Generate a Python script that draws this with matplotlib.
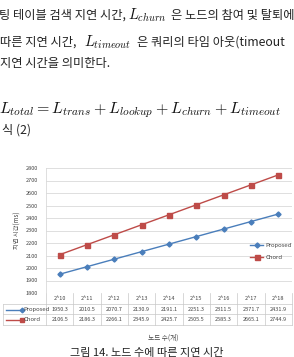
import matplotlib.pyplot as plt
import numpy as np
from matplotlib.lines import Line2D

plt.rcParams["font.family"] = ["Noto Sans CJK KR", "DejaVu Sans"]
plt.rcParams["mathtext.fontset"] = "cm"

categories = ["2^10", "2^11", "2^12", "2^13", "2^14", "2^15", "2^16", "2^17", "2^18"]
proposed = [1950.3, 2010.5, 2070.7, 2130.9, 2191.1, 2251.3, 2311.5, 2371.7, 2431.9]
chord = [2106.5, 2186.3, 2266.1, 2345.9, 2425.7, 2505.5, 2585.3, 2665.1, 2744.9]
series = [("Proposed", proposed, "#4a7ebb", "D"), ("Chord", chord, "#be4b48", "s")]

W, H = 294, 357
fig = plt.figure(figsize=(W / 100, H / 100), dpi=100)


def fx(px):
    return px / W


def fy(py):
    return 1 - py / H


# body text above the figure (korean runs and inline math placed separately)
txt = dict(fontsize=8.8, color="#222222", va="center", ha="left")
mth = dict(fontsize=10.5, color="#111111", va="center", ha="left")
fig.text(fx(-1), fy(15), "팅 테이블 검색 지연 시간,", **txt)
fig.text(fx(128), fy(15), "$L_{churn}$", **mth)
fig.text(fx(171), fy(15), "은 노드의 참여 및 탈퇴에", **txt)
fig.text(fx(0), fy(42), "따른 지연 시간,", **txt)
fig.text(fx(84), fy(42), "$L_{timeout}$", **mth)
fig.text(fx(137), fy(42), "은 쿼리의 타임 아웃(timeout", **txt)
fig.text(fx(0), fy(63), "지연 시간을 의미한다.", **txt)
fig.text(fx(-1), fy(110),
         r"$L_{total}=L_{trans}+L_{lookup}+L_{churn}+L_{timeout}$",
         fontsize=11.5, color="#111111", va="center", ha="left")
fig.text(fx(2), fy(130), "식 (2)", **txt)

# chart
ax = fig.add_axes([fx(46), fy(293), fx(292) - fx(46), (293 - 168) / H])
x = np.arange(len(categories))
for name, vals, color, marker in series:
    ax.plot(x, vals, color=color, lw=1.0, marker=marker,
            ms=2.6 if marker == "D" else 3.6, label=name)
ax.set_xlim(-0.5, len(categories) - 0.5)
ax.set_ylim(1800, 2800)
ax.set_yticks(np.arange(1800, 2801, 100))
ax.tick_params(axis="y", labelsize=4, length=0, pad=6, colors="#444444")
ax.set_xticks([])
ax.grid(axis="y", color="#d9d9d9", lw=0.6)
for s in ["top", "right", "bottom"]:
    ax.spines[s].set_visible(False)
ax.spines["left"].set_color("#d9d9d9")
ax.spines["left"].set_linewidth(0.6)
ax.set_axisbelow(True)
ax.set_ylabel("지연 시간(ms)", fontsize=4.5, color="#444444", labelpad=3)

ax.legend(loc="center right", bbox_to_anchor=(1.02, 0.33), frameon=False,
          fontsize=4.3, handlelength=2.2, labelspacing=1.1, handletextpad=0.3,
          labelcolor="#444444")

# data table under the plot
trans = ax.get_xaxis_transform()
row_y = [-0.047, -0.135, -0.215]
edges_y = [0.0, -0.09, -0.17, -0.255]
lc = "#c8c8c8"
for xi in np.arange(-0.5, len(categories), 1.0):
    ax.add_line(Line2D([xi, xi], [0, edges_y[-1]], transform=trans, color=lc,
                       lw=0.5, clip_on=False))
left = -0.5 - 43 / (246 / len(categories))
for ey in edges_y[1:]:
    ax.add_line(Line2D([left, len(categories) - 0.5], [ey, ey], transform=trans,
                       color=lc, lw=0.5, clip_on=False))
ax.add_line(Line2D([left, left], [edges_y[1], edges_y[-1]], transform=trans,
                   color=lc, lw=0.5, clip_on=False))
for i, c in enumerate(categories):
    ax.text(i, row_y[0], c, transform=trans, fontsize=4, ha="center", va="center",
            color="#444444")
for r, (name, vals, color, marker) in enumerate(series, start=1):
    for i, v in enumerate(vals):
        ax.text(i, row_y[r], f"{v:.1f}", transform=trans, fontsize=4, ha="center",
                va="center", color="#444444")
    ax.add_line(Line2D([left + 0.1, left + 0.7], [row_y[r], row_y[r]], transform=trans,
                       color=color, lw=1.0, marker=marker, markevery=[1],
                       ms=2.4 if marker == "D" else 3.2, clip_on=False))
    ax.text(left + 0.75, row_y[r], name, transform=trans, fontsize=4.3, ha="left",
            va="center", color="#444444")

fig.text(fx(163), fy(338), "노드 수(개)", fontsize=4.8, color="#444444",
         ha="center", va="center")
fig.text(fx(147), fy(353), "그림 14. 노드 수에 따른 지연 시간", fontsize=8,
         color="#222222", ha="center", va="center")

fig.savefig("out.png", dpi=100)
